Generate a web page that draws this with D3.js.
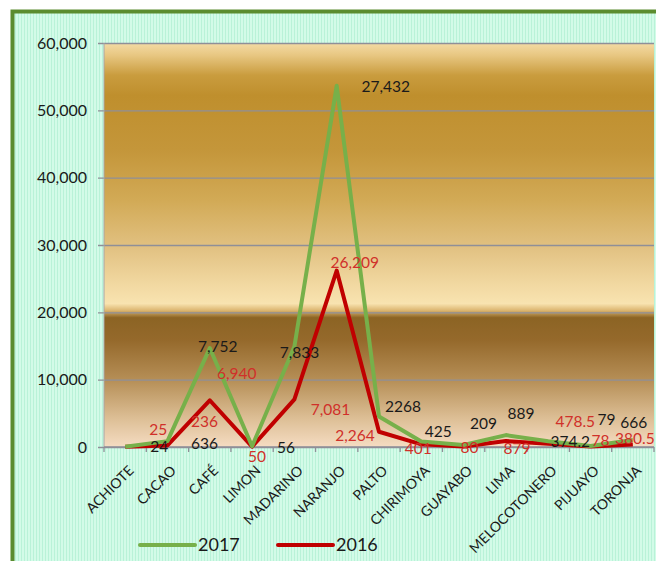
<!DOCTYPE html>
<html>
<head>
<meta charset="utf-8">
<script src="https://cdn.jsdelivr.net/npm/d3@7/dist/d3.min.js"></script>
<style>
  html, body { margin: 0; padding: 0; background: #ffffff; }
  svg { display: block; }
  text { font-family: Lato, "Open Sans", sans-serif; }
</style>
</head>
<body>
<svg id="chart" width="656" height="561"></svg>
<script>
// ---- data ----
const categories = ["ACHIOTE", "CACAO", "CAFÉ", "LIMON", "MADARINO", "NARANJO", "PALTO",
  "CHIRIMOYA", "GUAYABO", "LIMA", "MELOCOTONERO", "PIJUAYO", "TORONJA"];
const values2016 = [25, 236, 6940, 50, 7081, 26209, 2264, 401, 80, 879, 478.5, 78, 380.5];
const values2017 = [24, 636, 7752, 56, 7833, 27432, 2268, 425, 209, 889, 374.2, 79, 666];
const labels2016 = ["25", "236", "6,940", "50", "7,081", "26,209", "2,264", "401", "80", "879", "478.5", "78", "380.5"];
const labels2017 = ["24", "636", "7,752", "56", "7,833", "27,432", "2268", "425", "209", "889", "374.2", "79", "666"];
const yTicks = [0, 10000, 20000, 30000, 40000, 50000, 60000];
const seriesNames = ["2017", "2016"];

// ---- manual label nudges (layout only, dx/dy from point) ----
const offsets2016 = [[33,-17],[37,-24],[27,-27],[5,10],[36,10],[18,-8],[-24,4],[-3,4],[6,1],[11,7],[27,-22],[10,-6],[2,-6]];
const offsets2017 = [[34,0],[37,2],[8,-2],[34,1],[5,6],[49,1],[24,-10],[17,-10],[20,-22],[15,-22],[22,0],[16,-27],[1,-18]];

const svg = d3.select("#chart");
const defs = svg.append("defs");

// striped mint background pattern
const pat = defs.append("pattern").attr("id", "stripes").attr("patternUnits", "userSpaceOnUse")
  .attr("width", 3).attr("height", 10);
pat.append("rect").attr("width", 3).attr("height", 10).attr("fill", "#d3fbe8");
pat.append("rect").attr("width", 1).attr("height", 10).attr("fill", "#b9f2d8");

const plot = { left: 104, right: 654, top: 43, bottom: 447 };

const grad = defs.append("linearGradient").attr("id", "plotbg")
  .attr("gradientUnits", "userSpaceOnUse")
  .attr("x1", 0).attr("x2", 0).attr("y1", plot.top).attr("y2", plot.bottom);
[
  [0, "#f4dba5"], [0.03, "#e8c782"], [0.08, "#c99c3e"], [0.13, "#bf8f2d"],
  [0.265, "#c4963a"], [0.39, "#d2aa56"], [0.51, "#e2c283"], [0.6, "#f2d9a2"],
  [0.645, "#f8e3b0"], [0.662, "#dcb670"], [0.68, "#8c6424"], [0.735, "#95692b"],
  [0.835, "#b68f57"], [0.93, "#ddbf96"], [1, "#f5dcc2"]
].forEach(([o, c]) => grad.append("stop").attr("offset", o).attr("stop-color", c));

// chart frame
svg.append("rect").attr("x", 12.5).attr("y", 11.5).attr("width", 720).attr("height", 640)
  .attr("fill", "url(#stripes)").attr("stroke", "#5b8c2f").attr("stroke-width", 4);

// scales
const x = d3.scaleBand().domain(categories).range([plot.left, plot.right]).padding(0);
const y = d3.scaleLinear().domain([0, 60000]).range([plot.bottom, plot.top]);
const cx = d => x(d) + x.bandwidth() / 2;

// plot area
svg.append("rect").attr("x", plot.left).attr("y", plot.top)
  .attr("width", plot.right - plot.left).attr("height", plot.bottom - plot.top)
  .attr("fill", "url(#plotbg)");

// y axis with gridlines
const yAxis = svg.append("g").attr("transform", `translate(${plot.left},0)`)
  .call(d3.axisLeft(y).tickValues(yTicks).tickFormat(d3.format(",")).tickSize(-(plot.right - plot.left)).tickPadding(17));
yAxis.select(".domain").remove();
yAxis.selectAll(".tick line").attr("stroke", "#8f8f98").attr("stroke-width", 1.3).attr("x1", -6);
yAxis.selectAll(".tick text").attr("font-size", 16).attr("fill", "#1a1a1a")
  .attr("font-family", "Lato, sans-serif");
svg.append("line").attr("x1", plot.left).attr("x2", plot.left).attr("y1", plot.top).attr("y2", plot.bottom)
  .attr("stroke", "#a6a6a6").attr("stroke-width", 1);

// x axis
svg.append("line").attr("x1", plot.left).attr("x2", plot.right).attr("y1", plot.bottom).attr("y2", plot.bottom)
  .attr("stroke", "#8f8f98").attr("stroke-width", 1.3);
const boundaries = categories.map(c => x(c)).concat([plot.right]);
svg.append("g").selectAll("line").data(boundaries).join("line")
  .attr("x1", d => d).attr("x2", d => d).attr("y1", plot.bottom).attr("y2", plot.bottom + 5)
  .attr("stroke", "#8f8f98").attr("stroke-width", 1.3);
svg.append("g").selectAll("text").data(categories).join("text")
  .attr("transform", d => `translate(${cx(d) + 6},${plot.bottom + 21}) rotate(-45)`)
  .attr("text-anchor", "end").attr("dy", "0.35em")
  .attr("font-size", 14).attr("fill", "#1a1a1a").text(d => d);

// stacked series
const stacked2017 = values2016.map((v, i) => v + values2017[i]);
const line = d3.line().x((d, i) => cx(categories[i])).y(d => y(d));

svg.append("path").datum(values2016).attr("d", line)
  .attr("fill", "none").attr("stroke", "#c00000").attr("stroke-width", 4).attr("stroke-linejoin", "round");
svg.append("path").datum(stacked2017).attr("d", line)
  .attr("fill", "none").attr("stroke", "#77b04a").attr("stroke-width", 4).attr("stroke-linejoin", "round");

// data labels
svg.append("g").selectAll("text").data(values2016).join("text")
  .attr("x", (d, i) => cx(categories[i]) + offsets2016[i][0])
  .attr("y", (d, i) => y(d) + offsets2016[i][1])
  .attr("dy", "0.36em").attr("text-anchor", "middle")
  .attr("font-size", 15.5).attr("fill", "#d0302a")
  .text((d, i) => labels2016[i]);
svg.append("g").selectAll("text").data(stacked2017).join("text")
  .attr("x", (d, i) => cx(categories[i]) + offsets2017[i][0])
  .attr("y", (d, i) => y(d) + offsets2017[i][1])
  .attr("dy", "0.36em").attr("text-anchor", "middle")
  .attr("font-size", 15.5).attr("fill", "#1a1a1a")
  .text((d, i) => labels2017[i]);

// legend
const legend = svg.append("g");
const legendItems = [
  { name: seriesNames[0], color: "#77b04a", x: 140 },
  { name: seriesNames[1], color: "#c00000", x: 278 }
];
legendItems.forEach(it => {
  legend.append("line").attr("x1", it.x).attr("x2", it.x + 55).attr("y1", 545).attr("y2", 545)
    .attr("stroke", it.color).attr("stroke-width", 4).attr("stroke-linecap", "round");
  legend.append("text").attr("x", it.x + 58).attr("y", 545).attr("dy", "0.36em")
    .attr("font-size", 18).attr("fill", "#1a1a1a").text(it.name);
});
</script>
</body>
</html>
